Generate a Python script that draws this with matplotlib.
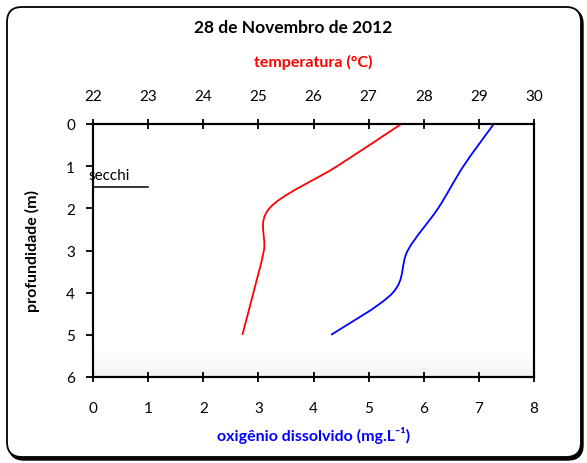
import matplotlib
matplotlib.use("Agg")
import matplotlib.pyplot as plt
from matplotlib.patches import FancyBboxPatch, PathPatch
from matplotlib.path import Path
import numpy as np

# ---- data ----
title = "28 de Novembro de 2012"
depth = [0, 1, 2, 3, 4, 5]
temperature = [27.59, 26.43, 25.20, 25.10, 24.91, 24.71]
oxygen = [7.27, 6.72, 6.26, 5.71, 5.44, 4.32]
secchi_depth = 1.5
secchi_x = [0, 1]
temp_ticks = [22, 23, 24, 25, 26, 27, 28, 29, 30]
ox_ticks = [0, 1, 2, 3, 4, 5, 6, 7, 8]
depth_ticks = [0, 1, 2, 3, 4, 5, 6]


def smoothed_path(xs, ys):
    """Smoothed-line path (Bezier through the points, like a spreadsheet's smoothed line)."""
    p = np.column_stack([xs, ys]).astype(float)
    n = len(p)
    verts = [p[0]]
    codes = [Path.MOVETO]
    for i in range(n - 1):
        prev = p[i - 1] if i > 0 else p[i]
        nxt = p[i + 2] if i + 2 < n else p[i + 1]
        c1 = p[i] + (p[i + 1] - prev) / 6
        c2 = p[i + 1] - (nxt - p[i]) / 6
        verts += [c1, c2, p[i + 1]]
        codes += [Path.CURVE4] * 3
    return Path(verts, codes)


plt.rcParams['font.family'] = ['Lato', 'DejaVu Sans']

W, H = 587, 464
fig = plt.figure(figsize=(W / 100, H / 100), dpi=100)

# rounded border with shadow
rs = 15 / W
asp = W / H
shadow = FancyBboxPatch((9 / W, 1 - 461 / H), 574 / W, 451 / H,
                        boxstyle=f"round,pad=0,rounding_size={rs}",
                        mutation_aspect=asp, transform=fig.transFigure,
                        facecolor='black', edgecolor='black', lw=1.0, zorder=0)
border = FancyBboxPatch((7 / W, 1 - 458 / H), 574 / W, 450 / H,
                        boxstyle=f"round,pad=0,rounding_size={rs}",
                        mutation_aspect=asp, transform=fig.transFigure,
                        facecolor='white', edgecolor='black', lw=1.3, zorder=1)
fig.patches.extend([shadow, border])

ax = fig.add_axes([93 / W, 1 - 378 / H, 441 / W, 253 / H])
ax.set_zorder(2)
ax.patch.set_alpha(0)
ax.set_xlim(0, 8)
ax.set_ylim(6, 0)
ax.set_xticks(ox_ticks)
ax.set_yticks(depth_ticks)

# faint gradient at the bottom of the plot area
grad = np.linspace(0, 1, 64).reshape(-1, 1)
ax.imshow(grad, extent=(0, 1, 0, 0.1), transform=ax.transAxes,
          cmap=matplotlib.colors.LinearSegmentedColormap.from_list(
              'g', ['#f3f3f3', '#ffffff']),
          aspect='auto', origin='lower', zorder=0)

ax2 = ax.twiny()
ax2.set_xlim(22, 30)
ax2.set_xticks(temp_ticks)

for a in (ax, ax2):
    for s in a.spines.values():
        s.set_linewidth(1.5)
        s.set_color('black')

ax.tick_params(axis='x', direction='inout', length=7, width=1.3,
               labelsize=11, pad=14)
ax.tick_params(axis='y', direction='out', length=5, width=1.3,
               labelsize=11, pad=8)
ax2.tick_params(axis='x', direction='inout', length=7, width=1.3,
                labelsize=11, pad=11.5)

ax2.add_patch(PathPatch(smoothed_path(temperature, depth), fill=False,
                        edgecolor='#ff0000', lw=1.3))
ax.add_patch(PathPatch(smoothed_path(oxygen, depth), fill=False,
                       edgecolor='#0000ff', lw=1.3))

# secchi marker
ax.plot(secchi_x, [secchi_depth, secchi_depth], color='black', lw=1.1)
ax.text(-0.09, 1.30, "secchi", fontsize=11, ha='left', va='baseline')

ax.set_ylabel("profundidade (m)", fontsize=11.5, fontweight='bold', labelpad=19)
ax.set_xlabel("oxigênio dissolvido (mg.L⁻¹)", fontsize=11.5,
              fontweight='bold', color='#0000ff', labelpad=7.5,
              family=['Lato', 'DejaVu Sans'])
ax2.set_xlabel("temperatura (°C)", fontsize=11.5, fontweight='bold',
               color='#ff0000', labelpad=16.5)

fig.text(0.5, 1 - 28 / H, title, ha='center', va='center', fontsize=12.5,
         fontweight='bold')

fig.savefig("out.png", dpi=100)
